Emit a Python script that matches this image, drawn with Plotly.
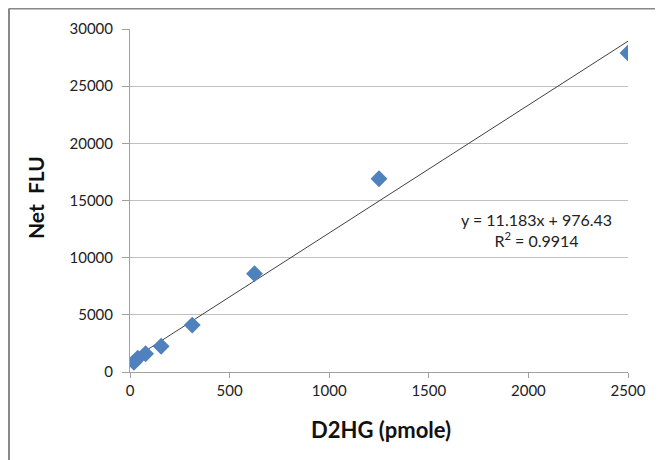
import plotly.graph_objects as go

x_vals = [19.53, 39.06, 78.125, 156.25, 312.5, 625, 1250, 2500]
y_vals = [850, 1200, 1600, 2250, 4100, 8600, 16900, 27900]
slope = 11.183
intercept = 976.43
eq_text = "y = 11.183x + 976.43<br>R<sup>2</sup> = 0.9914"
x_ticks = [0, 500, 1000, 1500, 2000, 2500]
y_ticks = [0, 5000, 10000, 15000, 20000, 25000, 30000]
y_tick_labels = [str(v) for v in y_ticks]
x_tick_labels = [str(v) for v in x_ticks]

# page body has an 8px margin, so compensate
OFF = 8
W, H = 663 - OFF, 460 - OFF
L, T = 130 - OFF, 29 - OFF
pw, ph = 498, 343
R, B = W - L - pw, H - T - ph

def px_x(px):
    return (px - OFF - L) / pw

def px_y(py):
    return (T + ph - (py - OFF)) / ph

fig = go.Figure()
trend_x = [min(x_vals), max(x_vals)]
trend_y = [slope * v + intercept for v in trend_x]
fig.add_trace(go.Scatter(x=trend_x, y=trend_y, mode="lines",
                         line=dict(color="#404040", width=1), hoverinfo="skip"))
fig.add_trace(go.Scatter(x=x_vals, y=y_vals, mode="markers",
                         marker=dict(symbol="diamond", size=13, color="#4F81BD",
                                     line=dict(width=0))))

font_fam = "Lato, 'Open Sans', sans-serif"
fig.update_layout(
    width=W, height=H, showlegend=False,
    margin=dict(l=L, r=R, t=T, b=B, autoexpand=False),
    paper_bgcolor="white", plot_bgcolor="white",
    font=dict(family=font_fam, size=15, color="#222"),
    xaxis=dict(range=[0, 2500], tickvals=x_ticks, ticktext=x_tick_labels,
               showgrid=False, zeroline=False, automargin=False,
               showline=True, linecolor="#A0A0A0", linewidth=1,
               ticks="outside", ticklen=5, tickcolor="#A0A0A0",
               tickfont=dict(size=15, color="#222")),
    yaxis=dict(range=[0, 30000], tickvals=y_ticks, ticktext=y_tick_labels,
               showgrid=True, gridcolor="#C0C0C0",
               gridwidth=1, zeroline=False, automargin=False,
               showline=True, linecolor="#A0A0A0", linewidth=1,
               ticks="outside", ticklen=7, tickcolor="#A0A0A0",
               ticklabelstandoff=6,
               tickfont=dict(size=15, color="#222")),
)

fig.add_annotation(x=2043, y=12450, xref="x", yref="y", text=eq_text, showarrow=False,
                   font=dict(size=16, color="#222", family=font_fam), align="center")

# axis titles
fig.add_annotation(x=px_x(35), y=px_y(198), xref="paper", yref="paper",
                   xanchor="center", yanchor="middle",
                   text="<b>Net  FLU</b>", textangle=-90, showarrow=False,
                   font=dict(size=21, color="#111", family=font_fam))
fig.add_annotation(x=px_x(381), y=px_y(429), xref="paper", yref="paper",
                   xanchor="center", yanchor="middle",
                   text="<b>D2HG (pmole)</b>", showarrow=False,
                   font=dict(size=22, color="#111", family=font_fam))

# outer chart border (left and top only visible)
bx = px_x(9)
by = px_y(8.5)
fig.add_shape(type="line", xref="paper", yref="paper", x0=bx, x1=bx, y0=by, y1=-0.5,
              line=dict(color="#888888", width=2))
fig.add_shape(type="line", xref="paper", yref="paper", x0=bx, x1=1.2, y0=by, y1=by,
              line=dict(color="#888888", width=2))

fig.write_html("out.html")
